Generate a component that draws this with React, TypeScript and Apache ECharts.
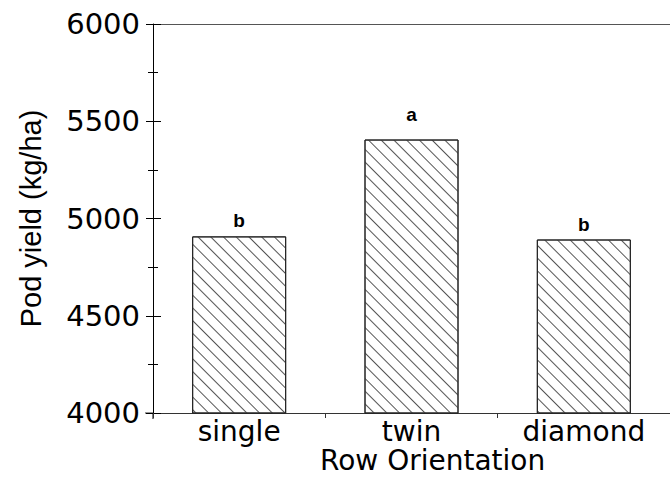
import React, { useEffect, useRef } from "react";
import * as echarts from "echarts";

const categories = ["single", "twin", "diamond"];
const podYield = [4908, 5406, 4892];
const letters = ["b", "a", "b"];
const yMin = 4000;
const yMax = 6000;
const yStep = 500;
const xTitle = "Row Orientation";
const yTitle = "Pod yield (kg/ha)";

export default function App() {
  const ref = useRef<HTMLDivElement>(null);
  useEffect(() => {
    const chart = echarts.init(ref.current!, null, { renderer: "svg" });
    const font = "'DejaVu Sans', sans-serif";
    const labelGaps = [6, 16, 6];
    const yAxisBase = {
      type: "value",
      min: yMin,
      max: yMax,
      interval: yStep,
      position: "left",
      splitLine: { show: false },
    };
    chart.setOption({
      animation: false,
      backgroundColor: "#fff",
      aria: { enabled: true, decal: { show: true } },
      grid: { left: 153, right: 0, top: 24, bottom: 64 },
      xAxis: [
        {
          type: "category",
          data: categories,
          position: "bottom",
          axisLine: { lineStyle: { color: "#333", width: 1 } },
          axisTick: { show: true, length: 5, lineStyle: { color: "#333" } },
          axisLabel: { color: "#000", fontSize: 28, fontFamily: font, margin: 4 },
        },
        {
          type: "category",
          data: categories,
          position: "top",
          axisLine: { lineStyle: { color: "#555", width: 1 } },
          axisTick: { show: false },
          axisLabel: { show: false },
        },
      ],
      yAxis: [
        {
          ...yAxisBase,
          axisLine: { show: true, lineStyle: { color: "#000", width: 1 } },
          axisTick: { show: true, length: 7, lineStyle: { color: "#000" } },
          minorTick: { show: true, splitNumber: 2, length: 5, lineStyle: { color: "#000" } },
          axisLabel: {
            color: "#000",
            fontSize: 29,
            fontFamily: font,
            margin: 13,
            formatter: (v: number) => String(v),
          },
          name: yTitle,
          nameLocation: "middle",
          nameGap: 108,
          nameTextStyle: { color: "#000", fontSize: 29, fontFamily: "'Liberation Sans', Arial, sans-serif" },
        },
        {
          ...yAxisBase,
          axisLine: { show: false },
          axisTick: { show: true, inside: true, length: 8, lineStyle: { color: "#000" } },
          minorTick: { show: true, splitNumber: 2, length: 5, lineStyle: { color: "#000" } },
          axisLabel: { show: false },
        },
      ],
      series: [
        {
          type: "bar",
          xAxisIndex: 0,
          yAxisIndex: 0,
          data: podYield.map((v, i) => ({ value: v, label: { distance: labelGaps[i] } })),
          barWidth: 94,
          itemStyle: {
            color: "#fff",
            borderColor: "#222",
            borderWidth: 1,
            decal: {
              symbol: "rect",
              symbolSize: 1,
              dashArrayX: [1, 0],
              dashArrayY: [1, 8],
              rotation: Math.PI / 4,
              color: "#555",
            },
          },
          label: {
            show: true,
            position: "top",
            formatter: (p: any) => letters[p.dataIndex],
            color: "#000",
            fontSize: 19,
            fontWeight: "bold",
            fontFamily: "'Liberation Sans', Arial, sans-serif",
          },
        },
      ],
      graphic: [
        {
          type: "text",
          left: 320,
          top: 446,
          style: { text: xTitle, fontSize: 28, fontFamily: font, fill: "#000" },
        },
        {
          type: "line",
          shape: { x1: 145, y1: 413, x2: 153, y2: 413 },
          style: { stroke: "#333", lineWidth: 1 },
        },
        {
          type: "line",
          shape: { x1: 153, y1: 413, x2: 153, y2: 419 },
          style: { stroke: "#000", lineWidth: 1 },
        },
      ],
    });
    return () => chart.dispose();
  }, []);
  return (
    <div
      ref={ref}
      style={{ position: "fixed", left: 0, top: 0, width: 670, height: 477, background: "#fff" }}
    />
  );
}
